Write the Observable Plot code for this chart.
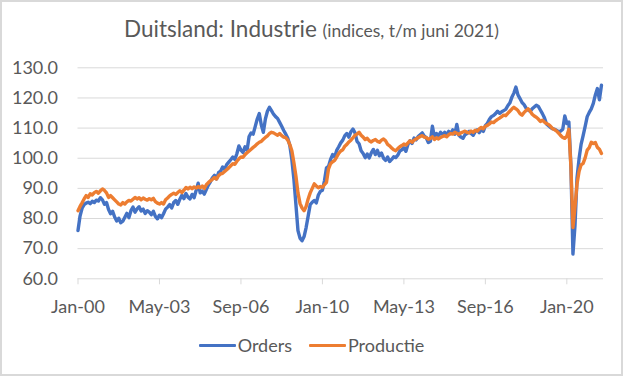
<!DOCTYPE html>
<html>
<head>
<meta charset="utf-8">
<script src="https://cdn.jsdelivr.net/npm/d3@7"></script>
<script src="https://cdn.jsdelivr.net/npm/@observablehq/plot@0.6"></script>
<style>
  html, body { margin: 0; padding: 0; background: #fff; }
  #frame {
    position: absolute; left: 0; top: 0; width: 623px; height: 376px;
    box-sizing: border-box; border: 2px solid #d9d9d9; background: #fff;
    font-family: Lato, "Open Sans", sans-serif; color: #595959; overflow: hidden;
  }
  #title {
    height: 48px; box-sizing: border-box; padding-top: 16px;
    text-align: center; font-size: 22.5px; line-height: 22px; white-space: nowrap;
  }
  #title .sub { font-size: 17.5px; }
  #chart svg { display: block; }
  #legend {
    height: 50px; box-sizing: border-box; padding-top: 14px;
    display: flex; justify-content: center; align-items: flex-start;
    font-size: 18px; line-height: 18px;
  }
  .item { display: flex; align-items: center; height: 18px; }
  .item + .item { margin-left: 17px; }
  .swatch { width: 37px; height: 3px; margin-right: 2px; border-radius: 1px; }
</style>
</head>
<body>
<div id="frame">
  <div id="title">Duitsland: Industrie <span class="sub">(indices, t/m juni 2021)</span></div>
  <div id="chart"></div>
  <div id="legend"></div>
</div>
<script>
// Monthly index values, Jan 2000 – Jun 2021
const orders = [
  76.0, 80.8, 83.4, 84.6, 85.1, 85.4, 84.9, 85.7, 85.3, 86.1, 85.8, 86.9,
  86.2, 84.7, 85.3, 83.0, 81.6, 82.4, 80.5, 79.2, 80.1, 78.6, 79.1, 80.4,
  81.7, 80.3, 82.6, 83.8, 82.1, 83.2, 83.9, 82.5, 83.1, 81.7, 82.6, 82.1,
  81.3, 82.4, 80.7, 79.9, 81.1, 80.3, 81.6, 83.1, 83.8, 84.6, 83.5, 85.3,
  86.0, 84.7, 86.4, 87.7, 86.6, 88.3, 87.1, 86.5, 88.0, 86.9, 89.3, 91.7,
  88.5, 89.1, 88.1, 89.6, 91.1, 92.2, 93.5, 94.3, 93.1, 95.2, 95.7, 97.1,
  96.3, 97.9, 98.7, 99.5, 100.4, 99.6, 101.5, 104.1, 102.7, 101.9, 103.8, 102.6,
  107.2, 108.4, 108.0, 110.5, 113.0, 114.8, 111.0, 108.6, 113.0, 115.6, 116.9, 115.8,
  114.6, 113.8, 113.2, 111.9, 110.6, 109.2, 108.0, 106.6, 104.2, 99.5, 93.0, 84.5,
  76.0, 73.5, 72.6, 74.0, 77.0, 80.8, 84.6, 85.4, 86.0, 85.2, 87.8, 89.0,
  89.4, 92.5, 96.8, 97.3, 99.6, 101.2, 100.4, 102.6, 103.8, 105.1, 106.0, 107.5,
  108.2, 107.0, 108.8, 109.7, 108.4, 105.6, 104.8, 102.5, 101.6, 100.2, 101.4, 100.1,
  101.8, 102.9, 101.2, 102.6, 100.8, 101.7, 100.0, 99.3, 100.4, 98.9, 99.6, 100.5,
  100.2, 101.0, 102.4, 102.8, 103.5, 102.3, 104.6, 105.8, 104.9, 106.7, 106.1, 107.2,
  107.8, 108.4, 107.3, 106.8, 105.2, 105.6, 110.6, 107.0, 108.2, 107.4, 108.6, 107.9,
  108.6, 107.8, 108.9, 108.2, 109.4, 108.0, 111.2, 107.6, 107.0, 106.6, 107.8, 108.2,
  108.9, 108.2, 107.6, 108.8, 109.4, 108.5, 109.6, 108.9, 110.8, 111.6, 112.9, 113.8,
  114.2, 114.8, 115.6, 114.9, 115.4, 115.8, 116.2, 117.4, 118.3, 120.2, 121.6, 123.6,
  121.0, 119.8, 118.5, 117.8, 116.6, 116.0, 115.6, 116.4, 117.0, 117.6, 117.2, 116.0,
  114.8, 113.4, 111.4, 110.8, 110.2, 109.8, 109.6, 109.2, 108.8, 109.0, 109.6, 114.0,
  111.5, 112.0, 97.4, 68.2, 77.6, 93.5, 99.8, 104.6, 107.5, 110.6, 113.8, 115.2,
  116.4, 118.2, 121.0, 123.1, 119.4, 124.2
];
const productie = [
  82.6, 84.0, 85.2, 86.5, 87.6, 87.0, 88.2, 87.8, 88.6, 89.0, 88.4, 89.2,
  89.8, 89.3, 88.5, 87.0, 87.6, 86.9, 86.2, 85.5, 84.8, 84.5, 85.3, 84.8,
  85.5, 86.0, 85.8, 86.4, 87.0, 86.5, 86.9, 86.2, 86.8, 86.4, 86.1, 86.6,
  86.2, 86.7, 85.6, 85.1, 84.8, 85.3, 84.8, 86.2, 86.8, 87.5, 88.0, 88.4,
  88.0, 88.6, 89.2, 88.6, 89.4, 90.3, 89.8, 90.4, 89.9, 90.5, 90.1, 90.6,
  90.2, 90.8, 90.0, 91.2, 91.9, 92.5, 93.0, 93.6, 93.1, 94.2, 94.8, 95.0,
  95.6, 96.2, 96.8, 97.5, 98.2, 98.0, 99.0, 99.8, 100.4, 100.3, 101.2, 101.8,
  102.4, 103.0, 103.6, 104.1, 104.8, 105.3, 105.6, 106.3, 106.9, 107.4, 108.2, 108.6,
  108.4, 108.0, 107.6, 108.2, 107.5, 107.0, 106.8, 106.0, 104.5, 102.5, 98.5, 94.0,
  88.5, 85.0, 83.5, 82.6, 84.0, 86.5, 88.5, 90.0, 91.5, 90.8, 90.2, 90.6,
  90.4, 91.2, 92.0, 96.5, 98.2, 98.8, 99.3, 100.4, 101.6, 102.4, 102.8, 104.0,
  104.6, 105.4, 106.0, 106.8, 107.6, 108.0, 108.6, 107.6, 107.0, 106.2, 106.6, 105.8,
  105.4, 105.9, 106.2, 105.6, 105.3, 106.0, 106.4, 105.8, 104.6, 104.1, 103.4, 102.8,
  102.5, 103.2, 103.8, 104.2, 104.7, 104.4, 105.1, 105.8, 105.3, 106.0, 106.4, 106.8,
  107.2, 107.5, 107.0, 106.8, 106.3, 106.6, 107.1, 106.2, 106.8, 106.4, 106.9, 107.2,
  107.5, 107.1, 107.8, 108.2, 108.0, 108.6, 108.3, 107.9, 108.4, 108.7, 109.0, 108.6,
  108.4, 109.0, 108.6, 109.3, 109.0, 109.7, 110.2, 109.8, 110.6, 110.9, 111.4, 112.0,
  111.8, 112.4, 112.9, 113.3, 113.8, 114.3, 114.1, 114.9, 115.6, 116.3, 116.9, 116.4,
  115.8, 114.8, 114.3, 115.2, 115.8, 116.4, 115.6, 114.6, 114.0, 113.6, 113.0, 112.2,
  112.6, 112.0, 111.5, 111.2, 110.6, 109.8, 109.5, 109.0, 108.3, 107.5, 106.9, 106.6,
  107.3, 109.6, 97.2, 77.0, 83.8, 91.5, 95.6, 97.8, 98.3, 100.1, 102.7, 103.5,
  105.3, 104.9, 105.2, 103.6, 103.0, 101.6
];
const seriesNames = ["Orders", "Productie"];
const seriesColors = ["#4472C4", "#ED7D31"];
const xTicks = [0, 40, 80, 120, 160, 200, 240];   // month index from Jan 2000
const xTickLabels = ["Jan-00", "May-03", "Sep-06", "Jan-10", "May-13", "Sep-16", "Jan-20"];
const yTicks = [60, 70, 80, 90, 100, 110, 120, 130];

const rows = [];
orders.forEach((v, i) => rows.push({m: i, v, s: "Orders"}));
productie.forEach((v, i) => rows.push({m: i, v, s: "Productie"}));

const chart = Plot.plot({
  width: 619,
  height: 272,
  marginLeft: 75.5,
  marginRight: 18,
  marginTop: 17.3,
  marginBottom: 43.7,
  style: {fontFamily: "Lato, 'Open Sans', sans-serif", fontSize: "18px", color: "#595959", background: "transparent", overflow: "visible"},
  x: {type: "linear", domain: [0, orders.length], label: null},
  y: {domain: [60, 130], label: null},
  color: {domain: seriesNames, range: seriesColors},
  marks: [
    Plot.ruleY(yTicks, {stroke: "#d9d9d9", strokeWidth: 1}),
    Plot.axisY(yTicks, {tickSize: 0, tickPadding: 20, tickFormat: d => d.toFixed(1), color: "#595959", label: null}),
    Plot.axisX(xTicks, {tickSize: 6, tickPadding: 15, stroke: "#d9d9d9", color: "#595959",
      tickFormat: d => xTickLabels[xTicks.indexOf(d)], label: null}),
    Plot.lineY(rows, {x: "m", y: "v", z: "s", stroke: "s", strokeWidth: 3.4, strokeLinejoin: "round", strokeLinecap: "round"})
  ]
});
document.getElementById("chart").appendChild(chart);

const legend = document.getElementById("legend");
seriesNames.forEach((name, i) => {
  const item = document.createElement("div");
  item.className = "item";
  const sw = document.createElement("span");
  sw.className = "swatch";
  sw.style.background = seriesColors[i];
  const t = document.createElement("span");
  t.textContent = name;
  item.appendChild(sw);
  item.appendChild(t);
  legend.appendChild(item);
});
</script>
</body>
</html>
